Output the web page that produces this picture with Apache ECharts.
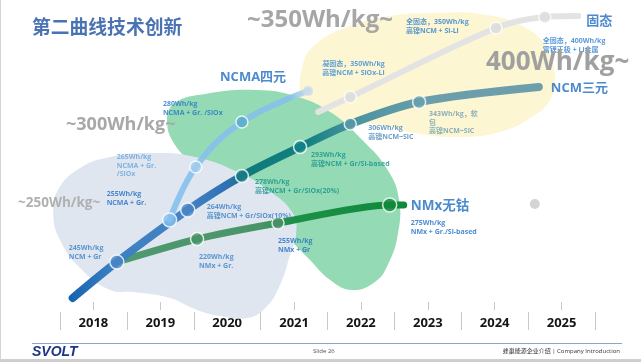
<!DOCTYPE html>
<html><head><meta charset="utf-8">
<script src="https://cdn.jsdelivr.net/npm/echarts@6/dist/echarts.min.js"></script>
<style>html,body{margin:0;padding:0;background:#fff}#c{width:641px;height:362px}</style>
</head><body><div id="c"></div>
<script>
// ---------------- data ----------------
const years = ['2018','2019','2020','2021','2022','2023','2024','2025'];
// x = position in years, level = plotted height
const ncmX = [2017.69, 2018.35, 2019.41, 2020.22, 2021.09, 2021.84, 2022.87, 2024.66];
const ncmLevel = [4, 40, 92, 126, 155, 178, 200, 215];
const ncmNotes = [null, '245Wh/kg\nNCM + Gr', '264Wh/kg\n高镍NCM + Gr/SiOx(10%)', '278Wh/kg\n高镍NCM + Gr/SiOx(20%)', '293Wh/kg\n高镍NCM + Gr/Si-based', '306Wh/kg\n高镍NCM~SiC', '343Wh/kg，软\n包\n高镍NCM~SiC', null];
const ncmaX = [2019.14, 2019.53, 2020.22, 2021.21];
const ncmaLevel = [82, 135, 180, 211];
const ncmaNotes = ['255Wh/kg\nNCMA + Gr.', '265Wh/kg\nNCMA + Gr.\n/SiOx', '280Wh/kg\nNCMA + Gr. /SiOx', null];
const nmxX = [2018.35, 2019.55, 2020.76, 2022.43, 2022.64];
const nmxLevel = [40, 63, 79, 97, 97];
const nmxNotes = [null, '220Wh/kg\nNMx + Gr.', '255Wh/kg\nNMx + Gr', '275Wh/kg\nNMx + Gr./Si-based', null];
const solidX = [2021.36, 2021.84, 2024.02, 2024.75, 2025.25];
const solidLevel = [190, 205, 274, 285, 286];
const solidNotes = [null, '凝固态，350Wh/kg\n高镍NCM + SiOx-Li', '全固态，350Wh/kg\n高镍NCM + Si-Li', '全固态，400Wh/kg\n富锂正极 + Li金属', null];
const routeNames = ['NCM三元', 'NCMA四元', 'NMx无钴', '固态'];
const spareDotX = [2024.60];
const spareDotLevel = [98];
const levelTags = ['~350Wh/kg~', '400Wh/kg~', '~300Wh/kg~', '~250Wh/kg~'];
const title = '第二曲线技术创新';
const footer = ['SVOLT', 'Slide 26', '蜂巢能源企业介绍 | Company Introduction'];
// background zones (outline in year / level units)
const zoneYellow = [[2021.16,162],[2021.09,202],[2021.13,237],[2021.31,257],[2021.76,274],[2022.43,286],[2023.11,289],[2023.78,288],[2024.38,277],[2024.75,257],[2024.90,227],[2024.83,202],[2024.53,184],[2024.08,170],[2023.48,165],[2022.88,168],[2022.36,176],[2021.91,179],[2021.54,176]];
const zoneGreen = [[2019.10,182],[2019.22,199],[2019.67,208],[2020.42,212],[2021.01,206],[2021.54,190],[2022.02,162],[2022.40,132],[2022.57,102],[2022.55,67],[2022.40,37],[2022.21,20],[2021.87,12],[2021.54,22],[2021.21,44],[2020.86,67],[2020.42,92],[2019.97,112],[2019.52,137],[2019.22,157]];
const zoneBlue = [[2020.19,129],[2020.61,112],[2020.98,89],[2021.03,67],[2020.94,47],[2020.79,17],[2020.57,-6],[2020.30,-16],[2019.89,-14],[2019.55,-8],[2019.14,4],[2018.60,10],[2018.25,12],[2017.80,34],[2017.50,62],[2017.40,87],[2017.47,112],[2017.80,134],[2018.25,145],[2018.85,149],[2019.52,145]];

// ---------------- styles ----------------
const FONT = "'Open Sans','Noto Sans CJK SC',sans-serif";
const ncmStyle = [null,
  {c:'#4a86c6', s:14, off:[-48,-18], lc:'#3b7fc4'},
  {c:'#4784c4', s:14, off:[19,-7], lc:'#3a7ec6'},
  {c:'#167c82', s:13, off:[13,2], lc:'#17928c'},
  {c:'#10828a', s:13, off:[11,4], lc:'#17928c'},
  {c:'#5b98a6', s:12, off:[18,0], lc:'#4a86b8'},
  {c:'#6a9fac', s:13, off:[10,8], lc:'#6f9fb0'}, null];
const ncmaStyle = [
  {c:'#86c0ee', s:14, off:[-63,-30], lc:'#1f6ec4'},
  {c:'#a3cdf0', s:12, off:[-79,-14], lc:'#6aa6dc'},
  {c:'#58aacd', s:12, off:[-79,-22], lc:'#2575c8'},
  {c:'#c9dcea', s:10, bw:0}];
const nmxStyle = [null,
  {c:'#459468', s:13, off:[2,14], lc:'#3b82c8'},
  {c:'#4c8f6c', s:12, off:[0,14], lc:'#1f6ec4'},
  {c:'#0f8a3a', s:14, off:[21,14], lc:'#1f6ec4'}, null];
const solidStyle = [null,
  {c:'#dcdcdc', s:12, off:[-28,-37], lc:'#3a8ad8'},
  {c:'#dcdcdc', s:12, off:[-90,-10], lc:'#2f7fd0'},
  {c:'#dcdcdc', s:12, off:[-2,20], lc:'#2f7fd0'}, null];
const nameStyle = [
  {off:[12,1], align:'left', size:13},
  {off:[-22,-14], align:'right', size:13},
  {off:[7,1], align:'left', size:13.5},
  {off:[8,5], align:'left', size:13}];

const zip = (xs, ys) => xs.map((x, i) => [x, ys[i]]);

function markerSeries(xs, ys, notes, styles) {
  const data = [];
  xs.forEach((x, i) => {
    const st = styles[i];
    if (!st) return;
    data.push({
      value: [x, ys[i]], symbolSize: st.s,
      itemStyle: {color: st.c, borderColor: '#fff', borderWidth: st.bw === undefined ? 1.5 : st.bw},
      label: notes[i] ? {show: true, position: 'inside', align: 'left', verticalAlign: 'top',
        offset: st.off, formatter: notes[i], color: st.lc, fontSize: 7, lineHeight: 8.5,
        fontWeight: 'bold', fontFamily: FONT} : {show: false}
    });
  });
  return {type: 'scatter', data, z: 6, silent: true, animation: false};
}

function zoneSeries(points, fill) {
  return {type: 'custom', data: points, z: 1, silent: true, clip: false, animation: false,
    renderItem: (params, api) => {
      if (params.dataIndex !== 0) return null;
      return {type: 'polygon', shape: {points: points.map(p => api.coord(p)), smooth: 0.45}, style: {fill}};
    }};
}

const routesX = [ncmX, ncmaX, nmxX, solidX];
const routesY = [ncmLevel, ncmaLevel, nmxLevel, solidLevel];
const nameSeries = {type: 'scatter', symbolSize: 0, z: 7, silent: true, animation: false,
  data: routeNames.map((n, i) => {
    const xs = routesX[i], ys = routesY[i], st = nameStyle[i];
    return {value: [xs[xs.length - 1], ys[ys.length - 1]],
      label: {show: true, position: 'inside', align: st.align, verticalAlign: 'middle', offset: st.off,
        formatter: n, color: '#1f6dc2', fontSize: st.size, fontWeight: 'bold', fontFamily: FONT}};
  })};

const grad = (stops) => ({type: 'linear', x: 0, y: 0, x2: 1, y2: 0,
  colorStops: stops.map(s => ({offset: s[0], color: s[1]}))});

const chart = echarts.init(document.getElementById('c'), null, {renderer: 'canvas'});
chart.setOption({
  animation: false,
  backgroundColor: '#fff',
  grid: {left: 60, right: 46, top: 0, bottom: 60},
  xAxis: [
    {type: 'value', min: 2017.5, max: 2025.5, show: false},
    {type: 'category', data: years, position: 'bottom', axisLine: {show: false},
      axisTick: {show: true, alignWithLabel: true, length: 8, lineStyle: {color: '#c8c8c8'}},
      axisLabel: {show: false}, splitLine: {show: false}},
    {type: 'category', data: years, position: 'bottom', offset: 10, axisLine: {show: false},
      axisTick: {show: true, alignWithLabel: false, interval: 0, length: 18, lineStyle: {color: '#c8c8c8'}},
      axisLabel: {show: true, margin: 5, color: '#151515', fontSize: 13, fontWeight: 'bold', fontFamily: FONT},
      splitLine: {show: false}}
  ],
  yAxis: {type: 'value', min: 0, max: 302, show: false},
  series: [
    zoneSeries(zoneYellow, '#fdf6d3'),
    zoneSeries(zoneGreen, '#94dbb5'),
    zoneSeries(zoneBlue, '#dfe6ef'),
    {type: 'line', data: zip(solidX, solidLevel), smooth: 0.35, symbol: 'none', z: 2, silent: true,
      lineStyle: {width: 6, cap: 'round', color: '#e3e3e3'}},
    {type: 'line', data: zip(nmxX, nmxLevel), smooth: 0.25, symbol: 'none', z: 3, silent: true,
      lineStyle: {width: 7, cap: 'round', color: grad([[0,'#4f9a72'],[0.5,'#4a9468'],[0.6,'#1d9048'],[1,'#0f8a3a']])}},
    {type: 'line', data: zip(ncmX, ncmLevel), smooth: 0.3, symbol: 'none', z: 3, silent: true,
      lineStyle: {width: 8, cap: 'round', color: grad([[0,'#1462ae'],[0.09,'#3b7fc2'],[0.25,'#4583c4'],[0.33,'#2f70b5'],[0.38,'#0f7a7c'],[0.5,'#11807f'],[0.6,'#4a93a0'],[0.75,'#6a9eab'],[1,'#6d9fab']])}},
    {type: 'line', data: zip(ncmaX, ncmaLevel), smooth: 0.4, symbol: 'none', z: 4, silent: true,
      lineStyle: {width: 6, cap: 'round', color: grad([[0,'#86c0ee'],[0.85,'#86c0ea'],[1,'#c9dcea']]), opacity: 0.9}},
    markerSeries(solidX, solidLevel, solidNotes, solidStyle),
    markerSeries(nmxX, nmxLevel, nmxNotes, nmxStyle),
    markerSeries(ncmX, ncmLevel, ncmNotes, ncmStyle),
    markerSeries(ncmaX, ncmaLevel, ncmaNotes, ncmaStyle),
    {type: 'scatter', data: zip(spareDotX, spareDotLevel), symbolSize: 10, z: 6, silent: true,
      itemStyle: {color: '#c9c9c9'}},
    nameSeries
  ],
  graphic: [
    {type: 'rect', z: 100, left: 0, top: 0, shape: {width: 1, height: 362}, style: {fill: '#d4d4d4'}, silent: true},
    {type: 'rect', z: 100, left: 0, top: 359, shape: {width: 641, height: 3}, style: {fill: '#cfcfcf'}, silent: true},
    {type: 'text', z: 100, left: 32, top: 17, style: {text: title, fill: '#4a73b3', font: "bold 18.8px 'Noto Sans CJK SC'"}},
    {type: 'text', z: 100, left: 247, top: 8, style: {text: levelTags[0], fill: '#a6a6a6', font: 'bold 24px ' + FONT}},
    {type: 'text', z: 100, left: 486, top: 50, style: {text: levelTags[1], fill: '#a0a0a0', font: 'bold 26px ' + FONT}},
    {type: 'text', z: 100, left: 66, top: 116, style: {text: levelTags[2], fill: '#a8a8a8', font: 'bold 18px ' + FONT}},
    {type: 'text', z: 100, left: 18, top: 196, style: {text: levelTags[3], fill: '#b0b0b0', font: 'bold 13.5px ' + FONT}},
    {type: 'line', z: 100, shape: {x1: 32, y1: 343.5, x2: 622, y2: 343.5}, style: {stroke: '#8aa6cc', lineWidth: 1}, silent: true},
    {type: 'text', z: 100, left: 32, top: 345, style: {text: footer[0], fill: '#1c3587', font: "italic bold 14px 'Liberation Sans'"}},
    {type: 'text', z: 100, left: 313, top: 348, style: {text: footer[1], fill: '#555', font: "6px " + FONT}},
    {type: 'text', z: 100, right: 21, top: 348, style: {text: footer[2], fill: '#333', font: "6px " + FONT}}
  ]
});
</script></body></html>
